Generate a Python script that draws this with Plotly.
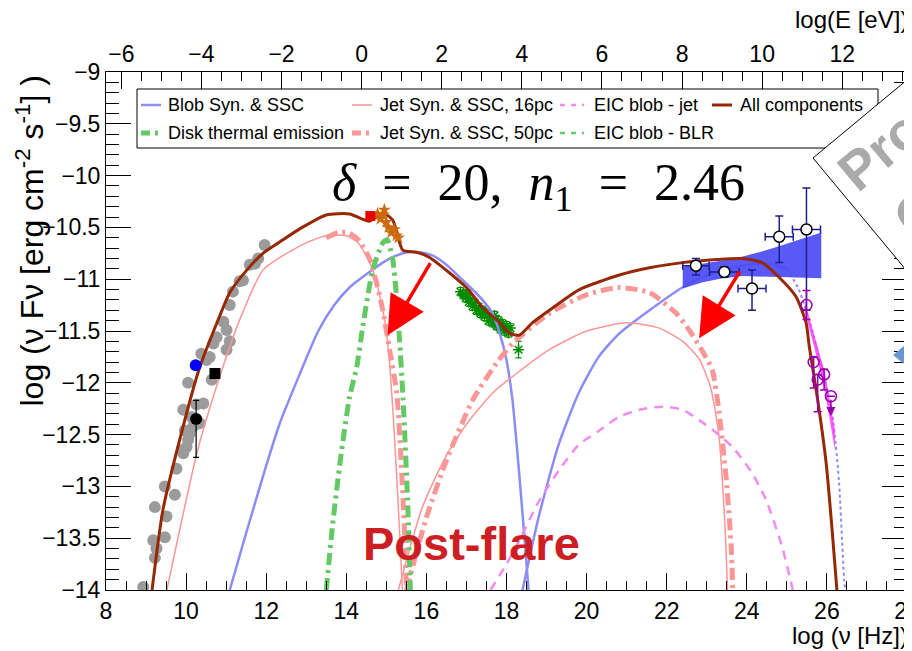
import plotly.graph_objects as go

# ---------------- data (log nu [Hz], log nuFnu) ----------------
all_x = [9.15, 9.42, 9.92, 10.34, 10.77, 11.09, 11.52, 11.92, 12.34, 12.9, 13.5, 14.08, 14.58, 14.91, 15.16,
         15.41, 15.76, 16.08, 16.58, 17.0, 17.4, 17.83, 18.07, 18.32, 18.65, 19.07, 19.82, 20.82, 21.57, 22.39,
         23.24, 23.89, 24.38, 24.88, 25.23, 25.48, 25.56, 25.76, 25.98, 26.13, 26.25]
all_y = [-14.0, -13.23, -12.43, -11.85, -11.42, -11.13, -10.91, -10.75, -10.64, -10.5, -10.38, -10.37, -10.44,
         -10.36, -10.43, -10.72, -10.74, -10.79, -10.94, -11.08, -11.27, -11.42, -11.52, -11.54, -11.42, -11.30,
         -11.10, -10.96, -10.89, -10.84, -10.81, -10.80, -10.84, -11.01, -11.17, -11.42, -11.65, -12.14, -12.77,
         -13.42, -14.0]

blob_syn_x = [11.09, 11.5, 12.0, 12.34, 12.8, 13.3, 13.7, 14.08, 14.58, 14.91, 15.2, 15.51, 15.8, 16.15, 16.5,
              16.83, 17.1, 17.4, 17.65, 17.83, 18.0, 18.15, 18.3, 18.45, 18.55]
blob_syn_y = [-14.0, -13.45, -12.8, -12.39, -11.95, -11.5, -11.25, -11.08, -10.93, -10.84, -10.78, -10.74, -10.74,
              -10.77, -10.86, -10.98, -11.08, -11.2, -11.33, -11.52, -11.78, -12.17, -12.8, -13.5, -14.0]
blob_ssc_x = [18.4, 18.8, 19.3, 19.8, 20.3, 20.8, 21.57, 22.39, 23.0, 23.64, 24.2, 24.6, 25.0]
blob_ssc_y = [-14.0, -13.3, -12.6, -12.1, -11.75, -11.53, -11.3, -11.08, -10.96, -10.89, -10.85, -10.85, -10.9]
blob_unabs_x = [25.0, 25.3, 25.63, 25.9, 26.13, 26.3, 26.43, 26.46]
blob_unabs_y = [-10.9, -11.1, -11.49, -11.9, -12.29, -12.94, -13.9, -14.0]

jet16_syn_x = [9.52, 10.27, 10.84, 11.34, 11.92, 12.34, 13.0, 13.5, 14.0, 14.3, 14.6, 14.8, 15.0, 15.1, 15.2,
               15.3, 15.4]
jet16_syn_y = [-14.0, -12.68, -11.94, -11.39, -10.91, -10.79, -10.65, -10.58, -10.58, -10.65, -10.85, -11.1,
               -11.5, -11.9, -12.5, -13.2, -14.0]
jet16_ssc_x = [15.3, 15.9, 16.5, 17.0, 17.65, 18.25, 19.07, 20.0, 21.0, 21.8, 22.4, 22.81, 23.1, 23.3, 23.4,
               23.47, 23.52]
jet16_ssc_y = [-14.0, -13.2, -12.7, -12.4, -12.1, -11.91, -11.68, -11.5, -11.42, -11.47, -11.6, -11.77, -12.05,
               -12.5, -13.0, -13.5, -14.0]

jet50_syn_x = [13.5, 13.8, 14.05, 14.3, 14.6, 14.9, 15.08, 15.26, 15.36, 15.45, 15.5]
jet50_syn_y = [-10.6, -10.55, -10.55, -10.62, -10.82, -11.28, -11.68, -12.1, -12.7, -13.4, -14.0]
jet50_ssc_x = [15.5, 16.0, 16.5, 17.15, 17.75, 18.15, 19.07, 20.0, 20.8, 21.57, 22.24, 22.56, 22.9, 23.14,
               23.31, 23.49, 23.61, 23.65]
jet50_ssc_y = [-14.0, -13.3, -12.75, -12.17, -11.81, -11.62, -11.33, -11.15, -11.08, -11.13, -11.33, -11.49,
               -11.7, -11.88, -12.29, -12.94, -13.58, -14.0]

disk_x = [13.5, 13.65, 13.85, 14.08, 14.26, 14.41, 14.66, 14.91, 15.02, 15.16, 15.26, 15.33, 15.41, 15.53, 15.6]
disk_y = [-14.0, -13.4, -12.75, -12.14, -11.85, -11.46, -10.91, -10.65, -10.62, -10.81, -11.2, -11.59, -12.1,
          -13.13, -14.0]

eic_jet_x = [17.6, 18.0, 18.32, 18.8, 19.32, 19.8, 20.32, 20.8, 21.32, 21.9, 22.4, 22.81, 23.2, 23.64, 24.1,
             24.48, 24.88, 25.15]
eic_jet_y = [-14.0, -13.75, -13.52, -13.15, -12.84, -12.6, -12.46, -12.33, -12.26, -12.23, -12.26, -12.36,
             -12.47, -12.62, -12.85, -13.13, -13.58, -14.0]

radio_x = [8.93, 9.22, 9.26, 9.18, 9.47, 9.22, 9.51, 9.47, 9.72, 9.76, 9.93, 10.01, 9.89, 10.05, 10.09, 10.18,
           9.97, 10.14, 10.34, 10.43, 9.93, 10.26, 10.05, 10.38, 10.51, 10.64, 10.59, 10.68, 11.01, 10.76, 11.01,
           10.93, 11.09, 11.09, 11.17, 11.34, 11.42, 11.59, 11.72, 11.80, 11.96]
radio_y = [-13.97, -13.69, -13.60, -13.52, -13.49, -13.20, -13.29, -13.00, -13.08, -12.83, -12.68, -12.62,
           -12.65, -12.55, -12.49, -12.42, -12.46, -12.33, -12.39, -12.20, -12.26, -12.21, -12.00, -11.72, -11.78,
           -11.97, -11.75, -11.62, -11.68, -11.56, -11.49, -11.41, -11.60, -11.25, -11.12, -11.02, -11.01, -10.86,
           -10.85, -10.80, -10.67]

xray_x = [16.85, 16.92, 16.98, 17.02, 17.06, 17.1, 17.15, 17.2, 17.25, 17.3, 17.35, 17.4, 17.45, 17.5, 17.55,
          17.6, 17.65, 17.7, 17.75, 17.8, 17.85, 17.9, 17.95, 18.0, 18.05, 18.1, 18.3]
xray_y = [-11.12, -11.15, -11.18, -11.14, -11.22, -11.19, -11.26, -11.23, -11.3, -11.27, -11.33, -11.3, -11.36,
          -11.33, -11.4, -11.37, -11.42, -11.35, -11.45, -11.4, -11.48, -11.43, -11.5, -11.45, -11.52, -11.47,
          -11.68]
xray_err = [0.04] * 26 + [0.08]

uv_x = [14.78, 14.85, 14.92, 15.0, 15.05, 15.12, 15.2, 15.25, 14.95, 15.3]
uv_y = [-10.37, -10.42, -10.38, -10.45, -10.5, -10.55, -10.52, -10.58, -10.33, -10.6]

fermi_x = [22.73, 23.44, 24.13, 24.81, 25.49]
fermi_y = [-10.87, -10.93, -11.09, -10.59, -10.52]
fermi_xerr = [0.33, 0.37, 0.35, 0.35, 0.35]
fermi_yerr_up = [0.07, 0.05, 0.18, 0.20, 0.40]
fermi_yerr_dn = [0.09, 0.05, 0.21, 0.25, 0.78]

bowtie_x = [22.4, 22.9, 23.4, 23.9, 24.4, 24.9, 25.4, 25.86]
bowtie_hi = [-10.88, -10.85, -10.82, -10.78, -10.73, -10.67, -10.61, -10.55]
bowtie_lo = [-11.09, -11.03, -10.99, -10.97, -10.97, -10.98, -10.985, -10.99]

vhe_x = [25.49, 25.67, 25.77, 25.93, 26.10]
vhe_y = [-11.25, -11.80, -11.97, -11.92, -12.13]
vhe_err_up = [0.14, 0.05, 0.05, 0.05, 0.0]
vhe_err_dn = [0.14, 0.25, 0.31, 0.15, 0.0]
vhe_band_x = [25.45, 25.7, 25.95, 26.2]
vhe_band_hi = [-11.22, -11.55, -11.9, -12.45]
vhe_band_lo = [-11.32, -11.68, -12.08, -12.65]

x_ticks = [8, 10, 12, 14, 16, 18, 20, 22, 24, 26, 28]
e_ticks = [-6, -4, -2, 0, 2, 4, 6, 8, 10, 12]
y_ticks = [-14, -13.5, -13, -12.5, -12, -11.5, -11, -10.5, -10, -9.5, -9]
H_SHIFT = 14.383  # log10(h / eV s)

SANS = "Liberation Sans, Arial, Helvetica"

BROWN = "rgb(150,40,5)"
BLUE_L = "rgb(140,140,245)"
PINK = "rgb(250,150,150)"
GREEN = "rgb(100,200,100)"
VIOLET = "rgb(240,140,240)"


def ln(x, y, color, width, dash="solid", shape="spline"):
    return go.Scatter(x=x, y=y, mode="lines", line=dict(color=color, width=width, dash=dash, shape=shape,
                                                         smoothing=0.6),
                      hoverinfo="skip", showlegend=False)


fig = go.Figure()

# archival radio
fig.add_trace(go.Scatter(x=radio_x, y=radio_y, mode="markers",
                         marker=dict(color="rgb(155,155,155)", size=12), showlegend=False))
# X-ray
fig.add_trace(go.Scatter(x=xray_x, y=xray_y, mode="markers",
                         marker=dict(symbol="asterisk", color="rgb(0,140,0)", size=9,
                                     line=dict(color="rgb(0,140,0)", width=1.5)),
                         error_y=dict(type="data", array=xray_err, color="rgb(0,140,0)", thickness=1.2, width=3),
                         showlegend=False))

# model curves
fig.add_trace(ln(blob_syn_x, blob_syn_y, BLUE_L, 2.5))
fig.add_trace(ln(blob_ssc_x, blob_ssc_y, BLUE_L, 2.5))
fig.add_trace(ln(blob_unabs_x, blob_unabs_y, BLUE_L, 2, dash="dot"))
fig.add_trace(ln(jet16_syn_x, jet16_syn_y, PINK, 1.5))
fig.add_trace(ln(jet16_ssc_x, jet16_ssc_y, PINK, 1.5))
fig.add_trace(ln(jet50_syn_x, jet50_syn_y, PINK, 5, dash="12px,5px,3px,5px"))
fig.add_trace(ln(jet50_ssc_x, jet50_ssc_y, PINK, 5, dash="12px,5px,3px,5px"))
fig.add_trace(ln(disk_x, disk_y, GREEN, 5, dash="12px,5px,3px,5px"))
fig.add_trace(ln(eic_jet_x, eic_jet_y, VIOLET, 2.5, dash="9px,7px"))

# Fermi bowtie
fig.add_trace(go.Scatter(x=bowtie_x + bowtie_x[::-1], y=bowtie_hi + bowtie_lo[::-1], mode="lines",
                         fill="toself", fillcolor="rgba(75,75,245,0.92)", line=dict(width=0),
                         hoverinfo="skip", showlegend=False))
# VHE band
fig.add_trace(go.Scatter(x=vhe_band_x + vhe_band_x[::-1], y=vhe_band_hi + vhe_band_lo[::-1], mode="lines",
                         fill="toself", fillcolor="rgba(255,60,255,0.85)", line=dict(width=0),
                         hoverinfo="skip", showlegend=False))

# all components
fig.add_trace(ln(all_x, all_y, BROWN, 3))

# other data points
fig.add_trace(go.Scatter(x=uv_x, y=uv_y, mode="markers",
                         marker=dict(symbol="star", color="rgb(205,105,10)", size=10), showlegend=False))
fig.add_trace(go.Scatter(x=[14.6], y=[-10.39], mode="markers",
                         marker=dict(symbol="square", color="rgb(235,0,0)", size=10), showlegend=False))
fig.add_trace(go.Scatter(x=[10.24], y=[-11.83], mode="markers",
                         marker=dict(color="rgb(0,0,255)", size=12), showlegend=False))
fig.add_trace(go.Scatter(x=[10.72], y=[-11.91], mode="markers",
                         marker=dict(symbol="square", color="black", size=11), showlegend=False))
fig.add_trace(go.Scatter(x=[10.25], y=[-12.35], mode="markers",
                         marker=dict(color="black", size=12),
                         error_y=dict(type="data", array=[0.18], arrayminus=[0.37], color="black",
                                      thickness=1.2, width=3),
                         showlegend=False))
fig.add_trace(go.Scatter(x=fermi_x, y=fermi_y, mode="markers",
                         marker=dict(symbol="circle", color="white", size=11,
                                     line=dict(color="black", width=1.5)),
                         error_x=dict(type="data", array=fermi_xerr, color="rgb(30,30,140)", thickness=1.5,
                                      width=4),
                         error_y=dict(type="data", array=fermi_yerr_up, arrayminus=fermi_yerr_dn,
                                      color="rgb(30,30,140)", thickness=1.5, width=4),
                         showlegend=False))
fig.add_trace(go.Scatter(x=vhe_x, y=vhe_y, mode="markers",
                         marker=dict(symbol="circle-open", color="rgb(150,0,170)", size=11,
                                     line=dict(width=1.5)),
                         error_y=dict(type="data", array=vhe_err_up, arrayminus=vhe_err_dn,
                                      color="rgb(150,0,170)", thickness=1.5, width=4),
                         showlegend=False))

# dummy trace for the top energy axis
fig.add_trace(go.Scatter(x=[0], y=[-20], xaxis="x2", yaxis="y", mode="markers",
                         marker=dict(opacity=0), hoverinfo="skip", showlegend=False))

# ---------------- layout ----------------
# plot frame in page pixels (page has an 8 px body margin before the figure)
OFF = 8
L, R, T, B = 106, 907, 72, 590
W, H = 912 - OFF, 651 - OFF


def px(x):
    return (x - L) / (R - L)


def py(y):
    return (B - y) / (B - T)


def ytxt(v):
    return ("%g" % v).replace("-", "\u2212")


TICKF = dict(size=23, family=SANS, color="black")

fig.update_layout(
    width=W, height=H,
    margin=dict(l=L - OFF, r=W - (R - OFF), t=T - OFF, b=H - (B - OFF), autoexpand=False),
    paper_bgcolor="white", plot_bgcolor="white",
    showlegend=False,
    font=dict(family=SANS, color="black"),
    xaxis=dict(range=[8, 28], tickmode="array", tickvals=x_ticks, ticks="inside", ticklen=17,
               tickwidth=1, tickcolor="black", showline=True, linecolor="black", linewidth=1,
               showgrid=False, zeroline=False, tickfont=TICKF, automargin=False, ticklabeloverflow="allow",
               minor=dict(tickmode="linear", tick0=8, dtick=0.5, ticks="inside", ticklen=9,
                          tickcolor="black", showgrid=False)),
    xaxis2=dict(overlaying="x", side="top", anchor="y",
                range=[8 - H_SHIFT, 28 - H_SHIFT], tickmode="array", tickvals=e_ticks,
                ticktext=[ytxt(v) for v in e_ticks],
                ticks="inside", ticklen=17, tickwidth=1, tickcolor="black", showline=True,
                linecolor="black", linewidth=1, showgrid=False, zeroline=False,
                tickfont=TICKF, automargin=False, ticklabeloverflow="allow",
                minor=dict(tickmode="linear", tick0=0, dtick=0.5, ticks="inside", ticklen=9,
                           tickcolor="black", showgrid=False)),
    yaxis=dict(range=[-14, -9], tickmode="array", tickvals=y_ticks, ticktext=[ytxt(v) for v in y_ticks],
               ticks="inside", ticklen=25, tickwidth=1, tickcolor="black", showline=True,
               linecolor="black", linewidth=1, mirror="ticks", showgrid=False, zeroline=False,
               tickfont=TICKF, automargin=False,
               minor=dict(tickmode="linear", tick0=-14, dtick=0.1, ticks="inside", ticklen=13,
                          tickcolor="black", showgrid=False)),
)

shapes = []
annotations = []

# legend box
shapes.append(dict(type="rect", xref="paper", yref="paper", x0=px(137), x1=px(878), y0=py(89), y1=py(148),
                   line=dict(color="black", width=1), fillcolor="white", layer="above"))
leg = [
    ("Blob Syn. & SSC", BLUE_L, 2.5, "solid", 141, 161, 166, 105),
    ("Jet Syn. & SSC, 16pc", PINK, 1.5, "solid", 352, 372, 378, 105),
    ("EIC blob - jet", VIOLET, 2.5, "5px,6px", 560, 584, 592, 105),
    ("All components", BROWN, 3, "solid", 712, 732, 738, 105),
    ("Disk thermal emission", GREEN, 5, "9px,5px,3px,5px", 141, 161, 166, 133),
    ("Jet Syn. & SSC, 50pc", PINK, 5, "9px,5px,3px,5px", 352, 372, 378, 133),
    ("EIC blob - BLR", GREEN, 2.5, "5px,6px", 560, 584, 592, 133),
]
for text, col, w, dash, sx0, sx1, tx, ty in leg:
    shapes.append(dict(type="line", xref="paper", yref="paper", x0=px(sx0), x1=px(sx1), y0=py(ty), y1=py(ty),
                       line=dict(color=col, width=w, dash=dash), layer="above"))
    annotations.append(dict(xref="paper", yref="paper", x=px(tx), y=py(ty), text=text, showarrow=False,
                            xanchor="left", yanchor="middle", font=dict(size=18, family=SANS, color="black")))

# slide overlay: white diamond with grey text, blue triangle
Lx, Ly = 813, 158
d1 = (0.77, -0.64)
d2 = (0.64, 0.77)
s = 260
Tp = (Lx + s * d1[0], Ly + s * d1[1])
Bp = (Lx + s * d2[0], Ly + s * d2[1])
Rp = (Tp[0] + Bp[0] - Lx, Tp[1] + Bp[1] - Ly)
path = "M %f,%f L %f,%f L %f,%f L %f,%f Z" % (px(Lx), py(Ly), px(Tp[0]), py(Tp[1]), px(Rp[0]), py(Rp[1]),
                                             px(Bp[0]), py(Bp[1]))
shapes.append(dict(type="path", xref="paper", yref="paper", path=path, fillcolor="white",
                   line=dict(color="black", width=1), layer="above"))
tri = "M %f,%f L %f,%f L %f,%f Z" % (px(893), py(355), px(920), py(333), px(920), py(377))
shapes.append(dict(type="path", xref="paper", yref="paper", path=tri, fillcolor="rgb(105,150,205)",
                   line=dict(width=0), layer="above"))

annotations.append(dict(xref="paper", yref="paper", x=px(880), y=py(150), text="<b>Pro</b>", showarrow=False,
                        textangle=-40, xanchor="center", yanchor="middle",
                        font=dict(size=54, family=SANS, color="rgb(170,170,170)")))
annotations.append(dict(xref="paper", yref="paper", x=px(917), y=py(212), text="<b>O</b>", showarrow=False,
                        textangle=-40, xanchor="center", yanchor="middle",
                        font=dict(size=54, family=SANS, color="rgb(170,170,170)")))

# axis titles
annotations.append(dict(xref="paper", yref="paper", x=px(910), y=py(635), text="log (\u03bd [Hz])",
                        showarrow=False, xanchor="right", yanchor="middle",
                        font=dict(size=24, family=SANS)))
annotations.append(dict(xref="paper", yref="paper", x=px(910), y=py(20), text="log(E [eV])",
                        showarrow=False, xanchor="right", yanchor="middle",
                        font=dict(size=24, family=SANS)))
annotations.append(dict(xref="paper", yref="paper", x=px(29), y=py(74),
                        text="log (\u03bd F\u03bd [erg cm<sup>-2</sup> s<sup>-1</sup>] )",
                        showarrow=False, textangle=-90, xanchor="center", yanchor="top",
                        font=dict(size=32, family=SANS)))

# slide texts
annotations.append(dict(xref="paper", yref="paper", x=px(538), y=py(186),
                        text="<i>\u03b4</i>\u2002=\u200220,\u2002<i>n</i><sub>1</sub>\u2002=\u20022.46",
                        showarrow=False, xanchor="center", yanchor="middle",
                        font=dict(size=52, family="Liberation Serif, DejaVu Serif", color="black")))
annotations.append(dict(xref="paper", yref="paper", x=px(471), y=py(543), text="<b>Post-flare</b>",
                        showarrow=False, xanchor="center", yanchor="middle",
                        font=dict(size=47, family=SANS, color="rgb(205,30,35)")))

# red arrows
for (tx, ty), (ax, ay) in [((15.03, -11.54), (16.12, -10.83)), ((22.81, -11.57), (23.85, -10.91))]:
    annotations.append(dict(x=tx, y=ty, ax=ax, ay=ay, xref="x", yref="y", axref="x", ayref="y", text="",
                            showarrow=True, arrowhead=2, arrowsize=2.2, arrowwidth=3.5,
                            arrowcolor="rgb(255,0,0)"))
# VHE upper-limit arrow
annotations.append(dict(x=26.10, y=-12.32, ax=26.10, ay=-12.15, xref="x", yref="y", axref="x", ayref="y",
                        text="", showarrow=True, arrowhead=2, arrowsize=1.2, arrowwidth=1.5,
                        arrowcolor="rgb(150,0,170)"))

fig.update_layout(shapes=shapes, annotations=annotations)

fig.write_html("out.html")
